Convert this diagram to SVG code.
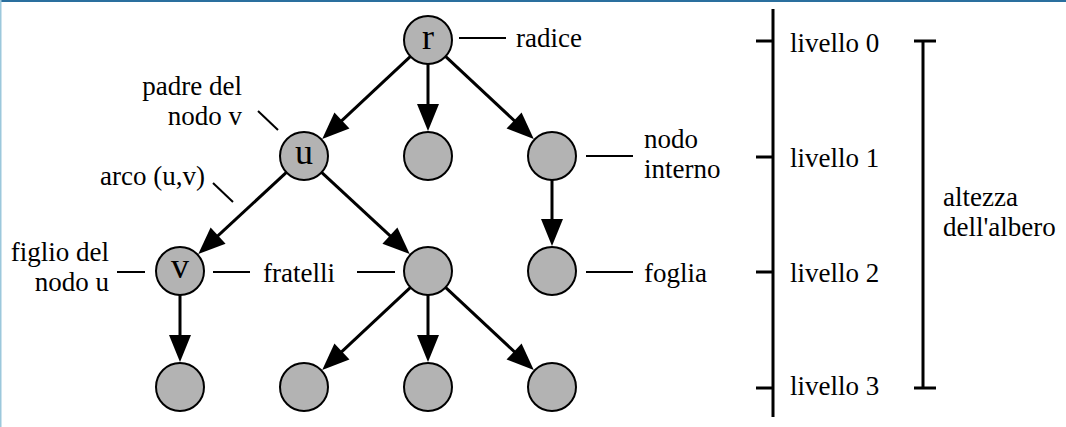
<svg xmlns="http://www.w3.org/2000/svg" width="1066" height="427" viewBox="0 0 1066 427">
  <style>
    .node circle { fill: #b3b3b3; stroke: #000; stroke-width: 2; }
    .node text { font-size: 36px; text-anchor: middle; fill: #000; }
    .lbl { font-size: 27px; fill: #000; }
    .end { text-anchor: end; }
    .edge { stroke: #000; stroke-width: 3; fill: none; marker-end: url(#arrow); }
    .lead { stroke: #000; stroke-width: 2; fill: none; }
    .bar { stroke: #000; stroke-width: 3; fill: none; }
  </style>
  <defs>
    <marker id="arrow" markerUnits="userSpaceOnUse" markerWidth="28" markerHeight="22" refX="21" refY="11" orient="auto" overflow="visible">
      <path d="M0,0 L27,11 L0,22 Z" fill="#000"/>
    </marker>
  </defs>

  <rect width="1066" height="427" fill="#fff"/>
  <!-- window frame -->
  <rect x="0" y="0" width="1066" height="2" fill="#2a6f9e"/>
  <rect x="0" y="0" width="1.5" height="427" fill="#9cc8dc"/>

  <!-- tree edges -->
  <g id="edges">
    <line class="edge" x1="410.5" y1="56.4" x2="326.6" y2="134.8"/>
    <line class="edge" x1="428" y1="64" x2="428" y2="125"/>
    <line class="edge" x1="445.5" y1="56.4" x2="529.4" y2="134.8"/>
    <line class="edge" x1="286.4" y1="172.3" x2="202.7" y2="249.9"/>
    <line class="edge" x1="321.6" y1="172.3" x2="405.3" y2="249.9"/>
    <line class="edge" x1="552" y1="180" x2="552" y2="240"/>
    <line class="edge" x1="180" y1="295" x2="180" y2="356"/>
    <line class="edge" x1="410.5" y1="287.4" x2="326.6" y2="365.8"/>
    <line class="edge" x1="428" y1="295" x2="428" y2="356"/>
    <line class="edge" x1="445.5" y1="287.4" x2="529.4" y2="365.8"/>
  </g>

  <!-- nodes -->
  <g font-family="Liberation Serif, serif">
    <g id="node-r" class="node"><circle cx="428" cy="40" r="24"/><text x="428" y="49">r</text></g>
    <g id="node-u" class="node"><circle cx="304" cy="156" r="24"/><text x="304" y="164">u</text></g>
    <g id="node-m1" class="node"><circle cx="428" cy="156" r="24"/></g>
    <g id="node-i" class="node"><circle cx="552" cy="156" r="24"/></g>
    <g id="node-v" class="node"><circle cx="180" cy="271" r="24"/><text x="180" y="278">v</text></g>
    <g id="node-s" class="node"><circle cx="428" cy="271" r="24"/></g>
    <g id="node-f" class="node"><circle cx="552" cy="271" r="24"/></g>
    <g id="node-b1" class="node"><circle cx="180" cy="387" r="24"/></g>
    <g id="node-b2" class="node"><circle cx="304" cy="387" r="24"/></g>
    <g id="node-b3" class="node"><circle cx="428" cy="387" r="24"/></g>
    <g id="node-b4" class="node"><circle cx="552" cy="387" r="24"/></g>
  </g>

  <!-- annotations -->
  <g id="annotations" font-family="Liberation Serif, serif">
    <line class="lead" x1="459" y1="38" x2="506" y2="38"/>
    <text class="lbl" x="516" y="47">radice</text>

    <line class="lead" x1="258" y1="111" x2="278" y2="130"/>
    <text class="lbl end" x="242" y="95">padre del</text>
    <text class="lbl end" x="242" y="125">nodo v</text>

    <line class="lead" x1="213" y1="183" x2="233" y2="202"/>
    <text class="lbl end" x="205" y="185">arco (u,v)</text>

    <line class="lead" x1="117" y1="272" x2="145" y2="272"/>
    <text class="lbl end" x="109" y="261">figlio del</text>
    <text class="lbl end" x="109" y="291">nodo u</text>

    <line class="lead" x1="213" y1="272" x2="250" y2="272"/>
    <text class="lbl" x="263" y="282">fratelli</text>
    <line class="lead" x1="357" y1="272" x2="395" y2="272"/>

    <line class="lead" x1="586" y1="156" x2="633" y2="156"/>
    <text class="lbl" x="644" y="148">nodo</text>
    <text class="lbl" x="644" y="178">interno</text>

    <line class="lead" x1="586" y1="272" x2="633" y2="272"/>
    <text class="lbl" x="644" y="282">foglia</text>
  </g>

  <!-- level scale -->
  <g id="levels" font-family="Liberation Serif, serif">
    <line class="bar" x1="773" y1="9" x2="773" y2="417"/>
    <line class="bar" x1="756" y1="41" x2="773" y2="41"/>
    <line class="bar" x1="756" y1="157" x2="773" y2="157"/>
    <line class="bar" x1="756" y1="272" x2="773" y2="272"/>
    <line class="bar" x1="756" y1="388" x2="773" y2="388"/>
    <text class="lbl" x="790" y="52">livello 0</text>
    <text class="lbl" x="790" y="167">livello 1</text>
    <text class="lbl" x="790" y="282">livello 2</text>
    <text class="lbl" x="790" y="395">livello 3</text>
  </g>

  <!-- height bar -->
  <g id="height" font-family="Liberation Serif, serif">
    <line class="bar" x1="923" y1="41" x2="923" y2="388"/>
    <line class="bar" x1="914" y1="41" x2="936" y2="41"/>
    <line class="bar" x1="914" y1="388" x2="936" y2="388"/>
    <text class="lbl" x="943" y="206">altezza</text>
    <text class="lbl" x="943" y="236">dell'albero</text>
  </g>
</svg>
